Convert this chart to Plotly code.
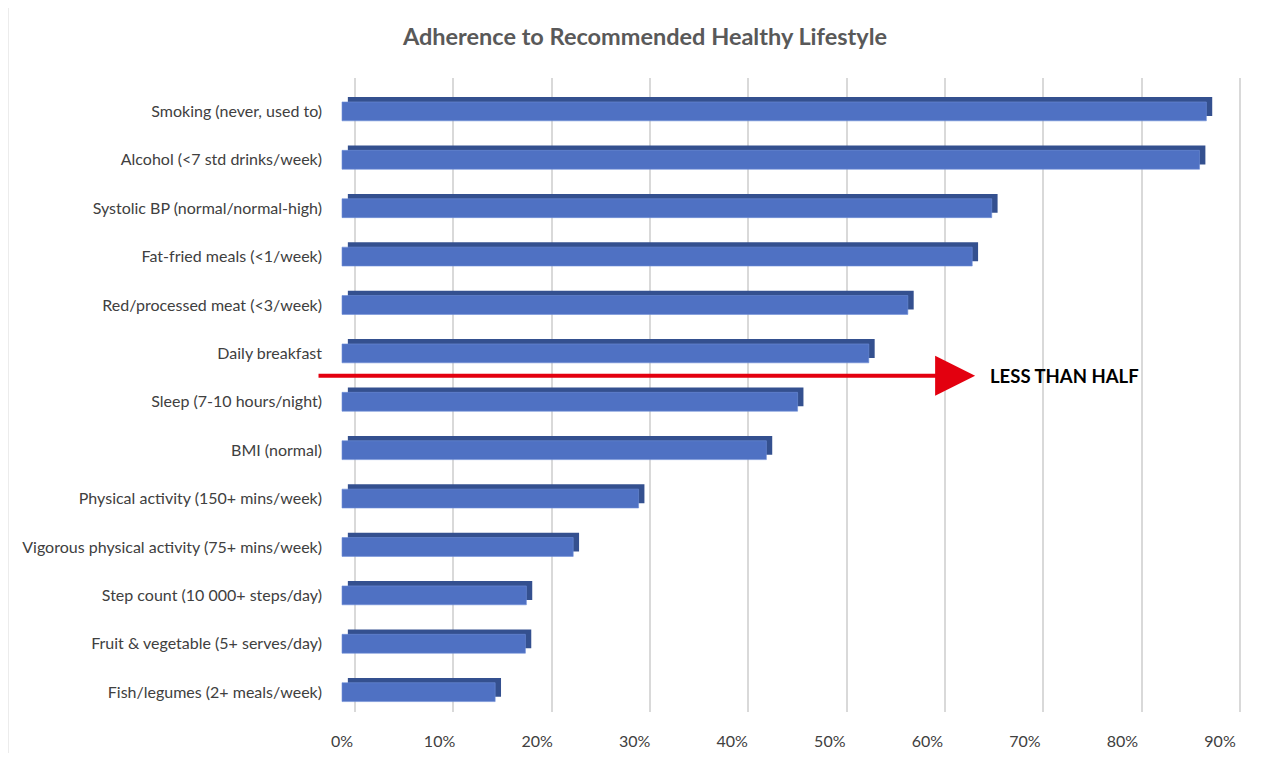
import plotly.graph_objects as go

categories = [
    "Smoking (never, used to)",
    "Alcohol (<7 std drinks/week)",
    "Systolic BP (normal/normal-high)",
    "Fat-fried meals (<1/week)",
    "Red/processed meat (<3/week)",
    "Daily breakfast",
    "Sleep (7-10 hours/night)",
    "BMI (normal)",
    "Physical activity (150+ mins/week)",
    "Vigorous physical activity (75+ mins/week)",
    "Step count (10 000+ steps/day)",
    "Fruit & vegetable (5+ serves/day)",
    "Fish/legumes (2+ meals/week)",
]
adherence = [88.6, 87.9, 66.6, 64.6, 58.0, 54.0, 46.7, 43.5, 30.4, 23.7, 18.9, 18.8, 15.7]
tick_values = [0, 10, 20, 30, 40, 50, 60, 70, 80, 90]
tick_labels = ["0%", "10%", "20%", "30%", "40%", "50%", "60%", "70%", "80%", "90%"]

FONT = "Lato"
FRONT = "#4F71C3"
DEPTH = "#34508F"
depth = 0.6          # oblique depth of bars (axis units)
bar_w = 0.39

W, H = 1270, 745

fig = go.Figure()

# back/right faces of the 3D bars (shifted copy drawn first)
fig.add_trace(go.Bar(
    y=categories, x=adherence, base=depth, orientation="h",
    width=bar_w, offset=-bar_w / 2 - 0.1,
    marker=dict(color=DEPTH, line=dict(width=0)),
    hoverinfo="skip", showlegend=False, xaxis="x", yaxis="y",
))
# front faces
fig.add_trace(go.Bar(
    y=categories, x=adherence, orientation="h",
    width=bar_w, offset=-bar_w / 2,
    marker=dict(color=FRONT, line=dict(width=0.6, color="#6F8FD8")),
    showlegend=False, xaxis="x", yaxis="y",
    hovertemplate="%{y}: %{x:.1f}%<extra></extra>",
))
# invisible trace to carry the back-wall gridline axis
fig.add_trace(go.Scatter(
    x=[0], y=[categories[0]], mode="markers", marker=dict(opacity=0),
    hoverinfo="skip", showlegend=False, xaxis="x2", yaxis="y",
))

fig.update_layout(
    width=W, height=H,
    margin=dict(l=322, r=33, t=70, b=41, autoexpand=False),
    paper_bgcolor="white", plot_bgcolor="white",
    font=dict(family=FONT, size=16, color="#404040"),
    title=dict(
        text="<b>Adherence to Recommended Healthy Lifestyle</b>",
        x=(645 - 8) / W, xanchor="center", xref="container",
        y=1 - 29 / H, yanchor="middle", yref="container",
        font=dict(family=FONT, size=23.5, color="#595959"),
    ),
    bargap=0.5,
    xaxis=dict(
        range=[-1.23, 92.56], tickvals=tick_values, ticktext=tick_labels,
        showgrid=False, zeroline=False, showline=False, ticks="",
        ticklabelstandoff=18, tickfont=dict(size=16, color="#404040"),
        automargin=False,
    ),
    xaxis2=dict(
        overlaying="x", side="bottom", range=[-2.54, 90.51],
        tickvals=tick_values, showticklabels=False,
        showgrid=True, gridcolor="#D9D9D9", gridwidth=1.5,
        zeroline=False, showline=False, ticks="", automargin=False,
    ),
    yaxis=dict(
        categoryorder="array", categoryarray=categories,
        range=[12.41, -0.69], showgrid=False, zeroline=False,
        showline=False, ticks="", ticklabelstandoff=7,
        tickfont=dict(size=16, color="#404040"), automargin=False,
    ),
    shapes=[dict(
        type="rect", xref="paper", yref="paper",
        x0=(8 - 330) / 915, x1=(1280 - 330) / 915,
        y0=(712 - 790) / 634, y1=(712 - 6) / 634,
        line=dict(color="#D9D9D9", width=1), fillcolor="rgba(0,0,0,0)",
        layer="below",
    )],
    annotations=[
        dict(
            x=64.9, y=5.46, xref="x", yref="y",
            ax=-2.56, ay=5.46, axref="x", ayref="y",
            text="", showarrow=True, arrowhead=2, arrowsize=2,
            arrowwidth=4, arrowcolor="#E3000F",
        ),
        dict(
            x=66.2, y=5.46, xref="x", yref="y", xanchor="left", yanchor="middle",
            text="<b>LESS THAN HALF</b>", showarrow=False,
            font=dict(family=FONT, size=18.5, color="#000000"),
        ),
    ],
)

fig.write_html("out.html")
